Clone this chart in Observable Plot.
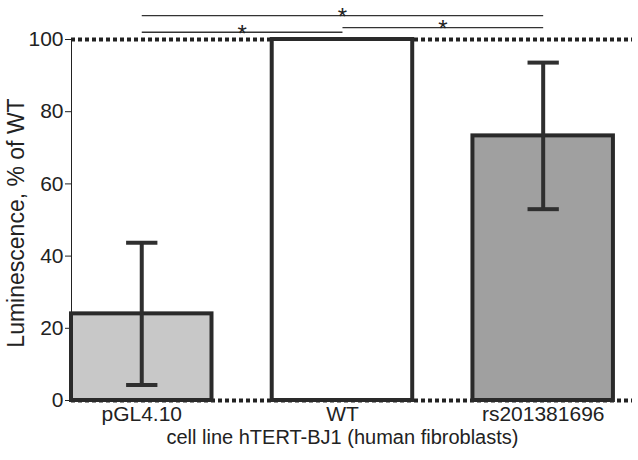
<!DOCTYPE html>
<html>
<head>
<meta charset="utf-8">
<script src="https://cdn.jsdelivr.net/npm/d3@7"></script>
<script src="https://cdn.jsdelivr.net/npm/@observablehq/plot@0.6"></script>
<style>
  html, body { margin: 0; padding: 0; background: #fff; }
</style>
</head>
<body>
<div id="chart"></div>
<script>
// ---- data ----
const categories = ["pGL4.10", "WT", "rs201381696"];
const means = [24, 100, 73.3];
const errors = [19.7, null, 20.3];
const fills = ["#c8c8c8", "#ffffff", "#a0a0a0"];
const yTicks = [0, 20, 40, 60, 80, 100];
const yLabel = "Luminescence, % of WT";
const xLabel = "cell line hTERT-BJ1 (human fibroblasts)";
// significance brackets: [from index, to index, level]
const bracketFrom = [0, 0, 1];
const bracketTo = [2, 1, 2];
const bracketLevel = [106.6, 102.0, 103.3];
const bracketMark = ["*", "*", "*"];

const bars = categories.map((c, i) => ({i, cat: c, value: means[i], err: errors[i], fill: fills[i]}));
const errs = bars.filter(d => d.err != null);
const caps = errs.flatMap(d => [d.value + d.err, d.value - d.err].map(v => ({i: d.i, v})));
const brackets = bracketFrom.map((f, k) => ({x1: f, x2: bracketTo[k], y: bracketLevel[k], label: bracketMark[k]}));

const half = 0.35;
const capHalf = 0.078;
const chart = Plot.plot({
  width: 638,
  height: 460,
  marginTop: 39,
  marginBottom: 60,
  marginLeft: 71,
  marginRight: 6,
  style: {fontFamily: "'Liberation Sans', Arial, sans-serif", fontSize: "21px", color: "#222", background: "#fff"},
  x: {domain: [-half, 2.445], ticks: categories.map((c, i) => i), tickFormat: i => categories[i], tickSize: 0, tickPadding: 6, label: null},
  y: {domain: [0, 100], ticks: yTicks, tickSize: 6, tickPadding: 2, label: null, line: true},
  marks: [
    Plot.ruleY([0, 100], {stroke: "#222", strokeWidth: 4, strokeDasharray: "4,3"}),
    Plot.rectY(bars, {x1: d => d.i - half, x2: d => d.i + half, y1: 0, y2: "value", fill: "fill", stroke: "#2a2a2a", strokeWidth: 4}),
    Plot.ruleX(errs, {x: "i", y1: d => d.value - d.err, y2: d => d.value + d.err, stroke: "#2f2f2f", strokeWidth: 4}),
    Plot.link(caps, {x1: d => d.i - capHalf, x2: d => d.i + capHalf, y1: "v", y2: "v", stroke: "#2f2f2f", strokeWidth: 4}),
    Plot.link(brackets, {x1: "x1", x2: "x2", y1: "y", y2: "y", stroke: "#333", strokeWidth: 1.4}),
    Plot.text(brackets, {x: d => (d.x1 + d.x2) / 2, y: "y", text: "label", fontSize: 24, dy: 2, fill: "#222"}),
    Plot.text([yLabel], {frameAnchor: "left", textAnchor: "middle", rotate: -90, dx: -55, dy: 3, fontSize: 23, fill: "#222"}),
    Plot.text([xLabel], {x: 1, frameAnchor: "bottom", dy: 43, fontSize: 20, fill: "#222"})
  ]
});
document.getElementById("chart").appendChild(chart);
</script>
</body>
</html>
